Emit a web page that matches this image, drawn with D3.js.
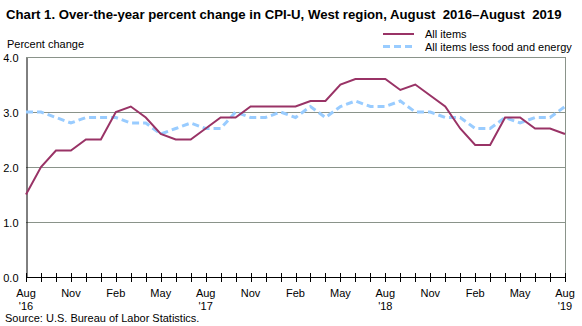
<!DOCTYPE html>
<html>
<head>
<meta charset="utf-8">
<script src="https://cdn.jsdelivr.net/npm/d3@7"></script>
<style>
  body { margin: 0; background: #fff; }
  svg { display: block; font-family: Arial, "Liberation Sans", sans-serif; }
</style>
</head>
<body>
<div id="chart"></div>
<script>
////////////////////////////////////////
// data
////////////////////////////////////////

var months = ['Aug','Sep','Oct','Nov','Dec','Jan','Feb','Mar','Apr','May','Jun','Jul',
              'Aug','Sep','Oct','Nov','Dec','Jan','Feb','Mar','Apr','May','Jun','Jul',
              'Aug','Sep','Oct','Nov','Dec','Jan','Feb','Mar','Apr','May','Jun','Jul','Aug'];

var allItems = [1.5,2.0,2.3,2.3,2.5,2.5,3.0,3.1,2.9,2.6,2.5,2.5,
                2.7,2.9,2.9,3.1,3.1,3.1,3.1,3.2,3.2,3.5,3.6,3.6,
                3.6,3.4,3.5,3.3,3.1,2.7,2.4,2.4,2.9,2.9,2.7,2.7,2.6];

var coreItems = [3.0,3.0,2.9,2.8,2.9,2.9,2.9,2.8,2.8,2.6,2.7,2.8,
                 2.7,2.7,3.0,2.9,2.9,3.0,2.9,3.1,2.9,3.1,3.2,3.1,
                 3.1,3.2,3.0,3.0,2.9,2.9,2.7,2.7,2.9,2.8,2.9,2.9,3.1];

var yTicks = [0,1,2,3,4];
// which months get a label, with the year underneath for Aug
var labelEvery = 3;
var yearLabels = {0:"'16", 12:"'17", 24:"'18", 36:"'19"};

////////////////////////////////////////
// layout
////////////////////////////////////////

var w = 582, h = 326;
var plotL = 26, plotR = 565, plotT = 57, plotB = 277;

var svg = d3.select('#chart').append('svg')
	.attr('width',w)
	.attr('height',h);

var x = d3.scaleLinear().domain([0,months.length-1]).range([plotL,plotR]);
var y = d3.scaleLinear().domain([0,4]).range([plotB,plotT]);

svg.append('text')
	.attr('x',6)
	.attr('y',19)
	.attr('font-size',13.2)
	.attr('font-weight','bold')
	.attr('fill','#000')
	.text('Chart 1. Over-the-year percent change in CPI-U, West region, August\u00a0 2016\u2013August\u00a0 2019');

svg.append('text')
	.attr('x',7)
	.attr('y',48)
	.attr('font-size',11)
	.text('Percent change');

// gridlines
svg.append('g')
	.selectAll('line')
	.data(yTicks.filter(function(d){ return d>0; }))
	.enter().append('line')
	.attr('x1',plotL)
	.attr('x2',plotR)
	.attr('y1',function(d){ return Math.round(y(d))+0.5; })
	.attr('y2',function(d){ return Math.round(y(d))+0.5; })
	.attr('stroke','#8a938a')
	.attr('stroke-width',1);

// right border
svg.append('line')
	.attr('x1',plotR+0.5).attr('x2',plotR+0.5)
	.attr('y1',plotT).attr('y2',plotB)
	.attr('stroke','#8a938a');

// y axis
var yAxis = d3.axisLeft(y)
	.tickValues(yTicks)
	.tickSize(0)
	.tickPadding(8)
	.tickFormat(d3.format('.1f'));

var yG = svg.append('g')
	.attr('transform','translate('+(plotL+0.5)+',0.5)')
	.call(yAxis);
yG.select('.domain').attr('stroke','#000');
yG.selectAll('text').attr('font-size',11).attr('fill','#000').attr('font-family','Arial, "Liberation Sans", sans-serif');

// x axis: ticks crossing the baseline
var xG = svg.append('g');
xG.append('line')
	.attr('x1',plotL).attr('x2',plotR)
	.attr('y1',plotB+0.5).attr('y2',plotB+0.5)
	.attr('stroke','#000');
xG.selectAll('line.tick')
	.data(d3.range(months.length))
	.enter().append('line')
	.attr('class','tick')
	.attr('x1',function(d){ return Math.round(x(d))+0.5; })
	.attr('x2',function(d){ return Math.round(x(d))+0.5; })
	.attr('y1',plotB-4)
	.attr('y2',plotB+5)
	.attr('stroke','#000');
xG.selectAll('text.month')
	.data(d3.range(0,months.length,labelEvery))
	.enter().append('text')
	.attr('class','month')
	.attr('x',function(d){ return x(d); })
	.attr('y',plotB+20)
	.attr('text-anchor','middle')
	.attr('font-size',11)
	.text(function(d){ return months[d]; });
xG.selectAll('text.year')
	.data(Object.keys(yearLabels))
	.enter().append('text')
	.attr('class','year')
	.attr('x',function(d){ return x(+d); })
	.attr('y',plotB+33)
	.attr('text-anchor','middle')
	.attr('font-size',11)
	.text(function(d){ return yearLabels[d]; });

////////////////////////////////////////
// lines
////////////////////////////////////////

var line = d3.line()
	.x(function(d,i){ return x(i); })
	.y(function(d){ return y(d); });

svg.append('path')
	.datum(coreItems)
	.attr('d',line)
	.attr('fill','none')
	.attr('stroke','#99ccff')
	.attr('stroke-width',3)
	.attr('stroke-dasharray','7,4');

svg.append('path')
	.datum(allItems)
	.attr('d',line)
	.attr('fill','none')
	.attr('stroke','#993366')
	.attr('stroke-width',2);

////////////////////////////////////////
// legend
////////////////////////////////////////

var legend = [
	{name:'All items', color:'#993366', width:2, dash:null},
	{name:'All items less food and energy', color:'#99ccff', width:3, dash:'7,4'}
];

var lg = svg.selectAll('g.legend')
	.data(legend)
	.enter().append('g')
	.attr('class','legend')
	.attr('transform',function(d,i){ return 'translate(383,'+(34+i*12.5)+')'; });
lg.append('line')
	.attr('x1',0).attr('x2',31)
	.attr('stroke',function(d){ return d.color; })
	.attr('stroke-width',function(d){ return d.width; })
	.attr('stroke-dasharray',function(d){ return d.dash; });
lg.append('text')
	.attr('x',42)
	.attr('y',4)
	.attr('font-size',11)
	.text(function(d){ return d.name; });

svg.append('text')
	.attr('x',5)
	.attr('y',322)
	.attr('font-size',11)
	.text('Source: U.S. Bureau of Labor Statistics.');
</script>
</body>
</html>
